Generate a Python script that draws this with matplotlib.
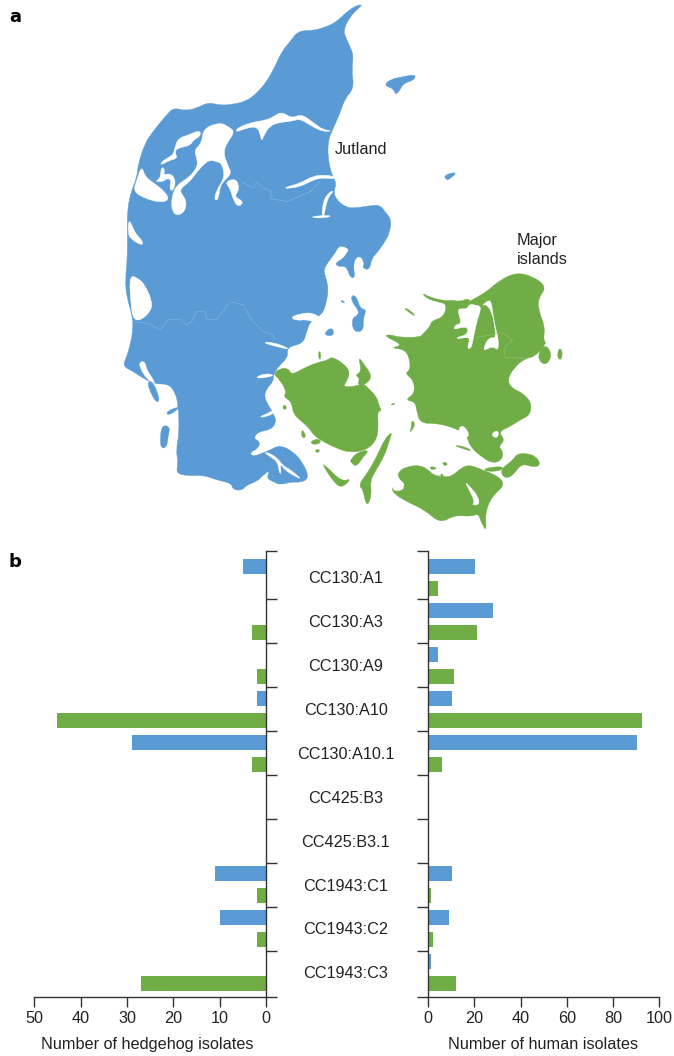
import matplotlib
matplotlib.use("Agg")
import matplotlib.pyplot as plt
from matplotlib.patches import PathPatch
from matplotlib.path import Path

plt.rcParams['font.family'] = ['Liberation Sans', 'DejaVu Sans']

# ---------------- bar data
categories = ['CC130:A1', 'CC130:A3', 'CC130:A9', 'CC130:A10', 'CC130:A10.1',
              'CC425:B3', 'CC425:B3.1', 'CC1943:C1', 'CC1943:C2', 'CC1943:C3']
hedgehog_jutland = [5, 0, 0, 2, 29, 0, 0, 11, 10, 0]
hedgehog_islands = [0, 3, 2, 45, 3, 0, 0, 2, 2, 27]
human_jutland = [20.3, 28, 4.3, 10.3, 90.3, 0, 0, 10.3, 9, 1.2]
human_islands = [4.3, 21, 11.2, 92.5, 6, 0, 0, 1.2, 2.1, 12]
hedgehog_ticks = [50, 40, 30, 20, 10, 0]
human_ticks = [0, 20, 40, 60, 80, 100]

BLUE = '#5b9bd5'
GREEN = '#70ad47'
INK = '#222222'
AX = '#333333'

# ---------------- map outlines, traced on crops of the picture (x0, y0 = crop origin, 3x scale)
def crop(pts, x0, y0):
    return [(x0 + a / 3, y0 + b / 3) for a, b in pts]

Z1 = (110, 0)
Z2 = (110, 260)
Z3 = (370, 230)
Z6 = (310, 190)
Z7 = (375, 65)

jutland = (
    crop([(758, 13), (745, 25), (720, 50), (700, 90), (708, 115), (725, 150), (730, 170), (725, 210),
          (732, 265), (705, 295), (690, 340), (665, 395), (655, 420), (653, 470), (665, 525), (680, 550)], *Z1)
    + crop([(70, 5), (80, 30), (105, 50), (130, 55), (180, 47), (210, 45), (225, 65), (245, 90), (238, 130),
            (225, 155), (200, 190), (185, 205), (180, 235), (165, 240), (160, 210), (150, 198), (135, 205),
            (130, 230), (135, 262), (120, 262), (112, 235), (100, 228), (85, 230), (75, 220), (100, 205),
            (110, 190), (118, 178), (100, 168), (85, 170), (75, 190), (55, 215), (40, 240), (50, 270),
            (55, 300), (50, 330)], *Z6)
    + crop([(650, 120), (640, 160), (600, 185), (590, 215), (580, 250), (530, 262), (535, 290), (505, 320),
            (490, 345), (490, 365), (470, 385), (462, 410), (475, 435), (495, 470), (498, 490), (480, 510),
            (445, 515), (430, 535), (450, 545), (445, 565), (418, 578), (430, 590), (460, 578), (480, 570),
            (510, 555), (550, 575), (580, 610), (598, 655), (570, 668), (545, 665), (510, 675), (490, 665),
            (470, 655), (480, 630), (460, 645), (440, 665), (410, 675), (395, 692), (368, 688), (365, 670),
            (320, 660), (280, 645), (235, 648), (198, 640), (205, 610), (198, 570), (208, 520), (205, 435),
            (195, 395), (175, 372), (135, 372), (105, 358), (70, 335), (38, 318), (50, 290), (62, 250),
            (70, 200), (65, 160), (50, 110), (46, 60), (52, 0)], *Z2)
    + crop([(52, 700), (52, 625), (65, 570), (80, 535), (85, 490), (105, 430), (125, 400), (150, 368),
            (170, 345), (190, 323), (230, 333), (265, 322), (295, 307), (330, 316), (370, 313), (410, 303),
            (440, 280), (470, 245), (495, 200), (515, 155), (540, 125), (565, 92), (610, 92), (650, 80),
            (680, 65), (705, 40), (735, 18)], *Z1)
)

jutland_bits = [
    crop([(27, 62), (45, 43), (85, 35), (122, 28), (118, 45), (85, 55), (75, 75), (62, 90), (55, 70)], *Z7),
    crop([(207, 330), (248, 320), (225, 342), (213, 345)], *Z7),
    crop([(110, 365), (130, 365), (150, 420), (140, 428), (125, 405)], *Z2),   # Fano
    crop([(155, 495), (180, 500), (175, 525), (170, 562), (155, 565), (150, 545)], *Z2),  # Romo
    crop([(168, 455), (205, 440), (205, 447), (175, 467)], *Z2),
    crop([(725, 105), (740, 110), (750, 145), (770, 150), (760, 170), (760, 215), (730, 215), (725, 175),
          (745, 165), (745, 150), (725, 125)], *Z2),   # Samso
    crop([(680, 0), (700, 15), (725, 10), (735, 50), (725, 55), (715, 20), (695, 15)], *Z2),
    crop([(770, 0), (785, 0), (775, 25), (755, 25)], *Z2),
    crop([(648, 212), (668, 203), (672, 227), (645, 227)], *Z2),
    crop([(690, 120), (705, 125), (700, 130)], *Z2),
]

water = [
    # Limfjord
    crop([(95, 497), (105, 530), (130, 548), (165, 575), (178, 600), (150, 608), (105, 595), (70, 575), (80, 540)], *Z1),
    crop([(205, 415), (235, 405), (270, 390), (272, 408), (250, 420), (240, 437), (200, 445), (195, 460), (203, 475),
          (175, 482), (155, 495), (152, 488), (170, 475), (190, 465), (195, 440)], *Z1),
    crop([(155, 500), (165, 510), (160, 525), (180, 520), (195, 535), (195, 560), (185, 575), (178, 560), (185, 540),
          (170, 535), (160, 545), (135, 545), (150, 535), (152, 520)], *Z1),
    crop([(280, 385), (330, 367), (355, 380), (375, 395), (350, 430), (340, 460), (355, 500), (365, 520), (340, 545),
          (330, 560), (325, 600), (312, 600), (320, 570), (345, 530), (335, 490), (320, 485), (300, 480), (285, 490),
          (265, 510), (240, 545), (205, 570), (230, 600), (225, 635), (200, 648), (185, 630), (185, 590), (200, 555),
          (240, 530), (262, 500), (262, 480), (252, 450), (275, 430)], *Z1),
    crop([(345, 545), (380, 535), (388, 570), (372, 590), (402, 605), (385, 622), (370, 600), (360, 565)], *Z1),
    crop([(380, 385), (420, 368), (470, 360), (490, 350), (515, 335), (545, 355), (575, 342), (610, 368), (640, 390),
          (668, 392), (640, 396), (600, 376), (570, 356), (545, 364), (510, 367), (480, 377), (462, 405), (455, 425),
          (450, 400), (440, 380), (410, 384), (378, 397)], *Z1),
    # Mariager, Randers, Nissum
    crop([(525, 562), (570, 550), (610, 527), (650, 525), (672, 530), (672, 537), (630, 533), (600, 545), (570, 560), (530, 566)], *Z1),
    crop([(672, 572), (652, 595), (642, 650), (635, 650), (640, 600), (660, 575)], *Z1),
    crop([(598, 650), (660, 645), (660, 651), (625, 655)], *Z1),
    crop([(55, 665), (62, 665), (75, 700), (100, 725), (95, 737), (60, 715), (55, 700)], *Z1),
    # Ringkobing, Ho Bugt
    crop([(58, 45), (85, 55), (105, 75), (125, 120), (125, 150), (95, 180), (70, 180), (62, 130)], *Z2),
    crop([(90, 305), (105, 305), (110, 330), (130, 358), (135, 372), (112, 360), (88, 320)], *Z2),
    # Vejle, Kolding, Haderslev, Aabenraa
    crop([(540, 172), (575, 160), (610, 158), (636, 178), (620, 190), (590, 178), (560, 182)], *Z2),
    crop([(455, 247), (490, 247), (530, 262), (535, 268), (500, 260)], *Z2),
    crop([(437, 352), (465, 340), (492, 345), (480, 350), (450, 355)], *Z2),
    crop([(445, 472), (470, 462), (485, 452), (495, 458), (470, 470)], *Z2),
    # Als sound
    crop([(460, 575), (485, 582), (505, 598), (520, 618), (540, 628), (578, 660), (548, 645), (525, 630), (510, 610),
          (514, 640), (508, 640), (503, 605), (480, 590)], *Z2),
]

funen = crop([(490, 342), (510, 325), (535, 325), (545, 345), (580, 325), (620, 308), (655, 300), (665, 290),
              (700, 310), (720, 335), (712, 360), (698, 382), (740, 378), (760, 370), (775, 385), (800, 410), (808, 440),
              (815, 452), (802, 455), (805, 500), (800, 540), (770, 570), (720, 578), (680, 565), (640, 545),
              (610, 525), (595, 500), (550, 465), (545, 425), (520, 410), (530, 395), (510, 360)], *Z2)

funen_bits = [
    crop([(745, 290), (760, 310), (788, 350), (765, 375), (742, 375), (750, 355), (735, 345), (755, 335)], *Z2),
    crop([(720, 600), (745, 575), (778, 570), (760, 590), (740, 620), (725, 610)], *Z2),
    crop([(635, 610), (650, 620), (695, 665), (725, 655), (695, 685), (670, 665)], *Z2),
    crop([(847, 515), (840, 535), (825, 585), (795, 635), (780, 665), (785, 700), (775, 735), (765, 725), (760, 690),
          (745, 675), (775, 635), (800, 590), (825, 535)], *Z2),
    crop([(575, 505), (590, 530), (575, 535)], *Z2),
    crop([(600, 545), (625, 535), (635, 548), (610, 555)], *Z2),
    crop([(612, 570), (630, 568), (625, 580)], *Z2),
    crop([(520, 435), (530, 438), (527, 450), (518, 445)], *Z2),
    crop([(625, 275), (632, 275), (632, 298), (627, 298)], *Z2),
]

zealand = crop([(155, 188), (180, 202), (225, 213), (245, 210), (270, 215), (295, 205), (298, 215), (315, 205),
                (350, 185), (390, 150), (440, 127), (490, 140), (530, 170), (505, 205), (505, 240), (525, 290),
                (520, 330), (530, 340), (495, 380), (465, 385), (430, 415), (412, 450), (425, 475), (460, 490),
                (485, 520), (480, 555), (450, 570), (420, 590), (385, 605), (405, 630), (385, 650), (400, 665),
                (395, 690), (370, 700), (340, 685), (300, 650), (290, 615), (265, 600), (240, 590), (200, 580),
                (150, 580), (140, 540), (135, 515), (105, 510), (135, 490), (130, 450), (105, 430), (120, 420),
                (120, 390), (105, 358), (60, 354), (100, 345), (42, 318), (60, 313), (85, 322), (150, 322),
                (160, 310), (180, 290), (185, 272), (220, 262), (232, 222), (200, 215), (170, 205)], *Z3)

zealand_bits = [
    crop([(500, 380), (525, 340), (548, 375), (525, 410)], *Z3),
    crop([(565, 355), (577, 360), (575, 390), (562, 385)], *Z3),
    crop([(100, 232), (120, 240), (138, 260), (120, 250)], *Z3),
    # Mon
    crop([(395, 715), (430, 690), (440, 672), (470, 670), (500, 680), (512, 705), (490, 712), (455, 700), (430, 735),
          (410, 745), (395, 735)], *Z3),
    # Lolland + Falster
    crop([(85, 725), (110, 710), (150, 705), (175, 720), (190, 735), (215, 740), (245, 740), (275, 712), (300, 705),
          (325, 715), (385, 738), (405, 765), (365, 800), (345, 850), (350, 905), (335, 880), (325, 850), (305, 860),
          (255, 855), (210, 880), (165, 840), (110, 815), (70, 790), (65, 770), (100, 775), (105, 760), (85, 745)], *Z3),
    crop([(180, 708), (205, 715), (182, 720)], *Z3),
    crop([(215, 695), (235, 700), (225, 710)], *Z3),
    crop([(210, 730), (222, 735), (216, 745)], *Z3),
    crop([(250, 645), (285, 650), (310, 665), (275, 655)], *Z3),
    crop([(125, 570), (135, 580), (130, 595), (118, 610), (125, 590)], *Z3),
    crop([(60, 525), (75, 518), (72, 525)], *Z3),
    crop([(340, 715), (400, 708), (395, 722), (350, 725)], *Z3),
]

zealand_water = [
    crop([(265, 235), (290, 238), (298, 222), (315, 225), (330, 228), (332, 240), (322, 270), (315, 300), (310, 325),
          (305, 350), (297, 358), (292, 350), (302, 320), (262, 327), (260, 322), (290, 315), (295, 295), (280, 290),
          (250, 300), (255, 285), (275, 280), (265, 250)], *Z3),
    crop([(335, 228), (358, 208), (365, 222), (370, 262), (378, 300), (385, 325), (385, 362), (370, 350), (355, 355),
          (340, 362), (345, 345), (352, 330), (365, 322), (378, 325), (372, 270), (360, 235), (345, 222)], *Z3),
    crop([(285, 755), (300, 770), (325, 800), (328, 825), (305, 825), (315, 815), (295, 775)], *Z3),
    crop([(265, 595), (280, 585), (300, 615), (285, 625), (270, 610)], *Z3),
    crop([(365, 610), (385, 600), (385, 622), (370, 622)], *Z3),
    crop([(65, 775), (90, 760), (105, 775), (80, 785)], *Z3),
]

jutland_borders = [
    crop([(395, 545), (430, 565), (440, 545), (460, 565), (485, 575), (480, 595), (530, 605), (600, 575), (630, 545)], *Z1),
    crop([(70, 185), (115, 190), (150, 210), (175, 178), (210, 178), (230, 195), (245, 185), (260, 155), (285, 155),
          (290, 180), (320, 178), (360, 125), (400, 135), (425, 180), (460, 215), (490, 225), (490, 240)], *Z2),
]
zealand_borders = [
    crop([(318, 322), (345, 318), (395, 308), (428, 330), (402, 355), (405, 382), (465, 385)], *Z3),
]

# ---------------- figure
W, H = 674, 1056
fig = plt.figure(figsize=(W / 100, H / 100), dpi=100)
bg = fig.add_axes([0, 0, 1, 1])
bg.set_xlim(0, W)
bg.set_ylim(H, 0)
bg.axis('off')

def outline(pts):
    """Closed quadratic path with the traced points as control points."""
    n = len(pts)
    mid = [((pts[i][0] + pts[(i + 1) % n][0]) / 2, (pts[i][1] + pts[(i + 1) % n][1]) / 2) for i in range(n)]
    verts, codes = [mid[-1]], [Path.MOVETO]
    for i in range(n):
        verts += [pts[i], mid[i]]
        codes += [Path.CURVE3, Path.CURVE3]
    return Path(verts, codes)

def fill(pts, color, z=1):
    bg.add_patch(PathPatch(outline(pts), facecolor=color, edgecolor=color, lw=0.3, zorder=z))

fill(jutland, BLUE)
for p in jutland_bits:
    fill(p, BLUE, 3)
for p in water:
    fill(p, 'white', 2)
for land in [funen, zealand]:
    fill(land, GREEN)
for p in funen_bits + zealand_bits:
    fill(p, GREEN, 1.5)
for p in zealand_water:
    fill(p, 'white', 2)
for line in jutland_borders:
    bg.plot(*zip(*line), color='#8ab8e0', lw=0.4, zorder=4)
for line in zealand_borders:
    bg.plot(*zip(*line), color='#95c476', lw=0.4, zorder=4)

TS = 11.7
bg.text(9, 17, 'a', fontsize=13, fontweight='bold', family='DejaVu Sans', color='black', va='center', ha='left')
bg.text(9, 562, 'b', fontsize=13, fontweight='bold', family='DejaVu Sans', color='black', va='center', ha='left')
bg.text(335, 149, 'Jutland', fontsize=TS, color=INK, va='center', ha='left')
bg.text(517, 241, 'Major', fontsize=TS, color=INK, va='center', ha='left')
bg.text(517, 260, 'islands', fontsize=TS, color=INK, va='center', ha='left')

# ---------------- bars
top, bottom = 550.7, 996.7
def make_ax(x0, x1):
    return fig.add_axes([x0 / W, 1 - bottom / H, (x1 - x0) / W, (bottom - top) / H], facecolor='none')

axL = make_ax(34.3, 266)
axR = make_ax(428, 659.3)
ypos = list(range(len(categories)))
ylim = (9.55, -0.61)
edges = [ylim[1]] + [i + 0.5 for i in ypos[:-1]] + [ylim[0]]

for ax, jut, isl, xlim, xt, lab, side in [
    (axL, hedgehog_jutland, hedgehog_islands, (50, 0), hedgehog_ticks, 'Number of hedgehog isolates', 'right'),
    (axR, human_jutland, human_islands, (0, 100), human_ticks, 'Number of human isolates', 'left'),
]:
    ax.barh([y - 0.25 for y in ypos], jut, height=0.34, color=BLUE, zorder=2)
    ax.barh([y + 0.25 for y in ypos], isl, height=0.34, color=GREEN, zorder=2)
    ax.set_xlim(*xlim)
    ax.set_ylim(*ylim)
    for s in ['top', 'left', 'right', 'bottom']:
        ax.spines[s].set_visible(s in ('bottom', side))
        ax.spines[s].set_linewidth(1.0)
        ax.spines[s].set_color(AX)
        ax.spines[s].set_zorder(3)
    ax.set_xticks(xt)
    ax.set_yticks(edges)
    ax.set_yticklabels([])
    ax.yaxis.set_ticks_position(side)
    ax.tick_params(axis='x', length=7.5, width=1.0, color=AX, labelcolor=INK, labelsize=TS, pad=3)
    ax.tick_params(axis='y', length=7.7, width=1.0, color=AX)
    ax.set_xlabel(lab, fontsize=TS, color=INK, va='center')

axL.xaxis.set_label_coords(0.486, -0.108)
axR.xaxis.set_label_coords(0.496, -0.108)

for y, c in zip(ypos, categories):
    axL.text(1.345, y + 0.03, c, transform=axL.get_yaxis_transform(), ha='center', va='center',
             fontsize=TS, color=INK)

fig.savefig('out.png', dpi=100)
